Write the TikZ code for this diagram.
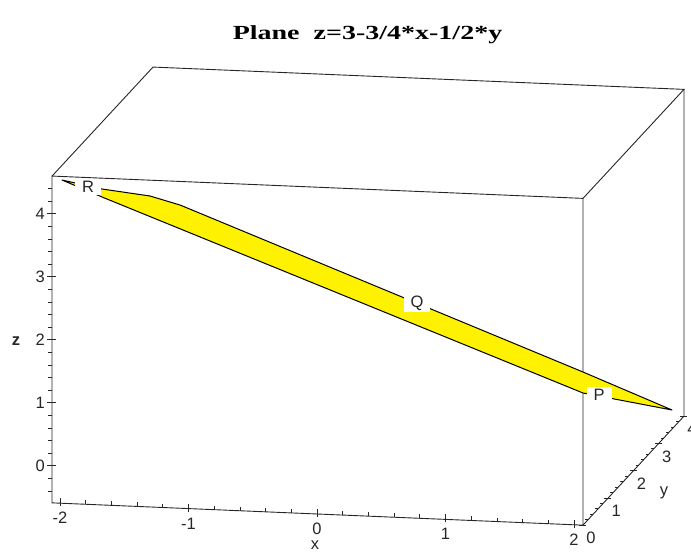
\documentclass[tikz,border=0pt]{standalone}
\usepackage{graphicx}
\usepackage{fontspec}
\setmainfont{Liberation Serif}
\setsansfont{Liberation Sans}
\tikzset{
  edge/.style={draw=black!85, line width=0.9pt},
  tick/.style={draw=black!85, line width=0.8pt},
  ticklbl/.style={font=\sffamily\fontsize{16.5}{18}\selectfont, text=black!85, inner sep=0pt},
  ptlbl/.style={ticklbl, fill=white, inner xsep=7pt, inner ysep=2pt},
  band/.style={fill=yellow, draw=black, line width=1pt, line join=round},
  ttl/.style={font=\bfseries\fontsize{20}{24}\selectfont, inner sep=0pt},
}

\begin{document}
\begin{tikzpicture}[x=1pt, y=-1pt]
  \useasboundingbox (0,0) rectangle (691,552);
  \node[ttl, anchor=base] (title) at (367.5,39) {\scalebox{1.4}[1]{Plane~~z=3-3/4*x-1/2*y}};

  % box, axes and ticks in plot coordinates
  \begin{scope}[shift={(317,477)}, x={(128.5pt,-5.4pt)}, y={(25.25pt,27.25pt)}, z={(0pt,63pt)}]
    \coordinate (o) at (-2.062,0,-0.587);
    \coordinate (xa) at (2.07,0,-0.587);
    \coordinate (ya) at (2.07,4,-0.587);
    \coordinate (ftl) at (-2.062,0,4.6);
    \coordinate (ftr) at (2.07,0,4.6);
    \coordinate (btl) at (-2.062,4,4.6);
    \coordinate (btr) at (2.07,4,4.6);
    \draw[edge] (o) -- (xa) -- (ftr) -- (ftl) -- cycle;
    \draw[edge] (ftl) -- (btl) -- (btr) -- (ftr);
    \draw[edge] (xa) -- (ya) -- (btr);
    % z
    \foreach \k in {-2,...,22} \draw[tick] (-2.062,0,\k/5) -- +(-4pt,0pt);
    \foreach \k in {0,...,4} {
      \draw[tick] (-2.062,0,\k) +(-5pt,0pt) -- +(4pt,0pt);
      \node[ticklbl, anchor=east, xshift=-7pt] (zl\k) at (-2.062,0,\k) {\k};
    }
    % x
    \foreach \k in {-10,...,10} \draw[tick] (\k/5,0,-0.587) -- +(0pt,4pt);
    \foreach \k in {-2,...,2} {
      \draw[tick] (\k,0,-0.587) +(0pt,-3pt) -- +(0pt,5pt);
      \node[ticklbl, anchor=north, yshift=-9pt] (xl\k) at (\k,0,-0.587) {\k};
    }
    % y
    \foreach \k in {1,...,20} \draw[tick] (2.07,\k/5,-0.587) -- +(-3pt,0pt);
    \foreach \k in {0,...,4} {
      \draw[tick] (2.07,\k,-0.587) +(-4pt,0pt) -- +(3pt,0pt);
      \node[ticklbl, xshift=8pt, yshift=-13pt] (yl\k) at (2.07,\k,-0.587) {\k};
    }
  \end{scope}

  \node[ticklbl] (xname) at (315,545) {x};
  \node[ticklbl] (yname) at (664,493) {y};
  \node[ticklbl, font=\sffamily\bfseries\fontsize{16.5}{18}\selectfont] (zname) at (16,341) {z};

  % the plane, seen nearly edge on
  \filldraw[band] (62,180) -- (102,189) -- (150,196) -- (180,205) -- (583,372) -- (672,410)
    -- (583,393) -- (102,197) -- cycle;
  \node[ptlbl] (P) at (599,395) {P};
  \node[ptlbl] (Q) at (417,303) {Q};
  \node[ptlbl] (R) at (88,187) {R};
\end{tikzpicture}
\end{document}
